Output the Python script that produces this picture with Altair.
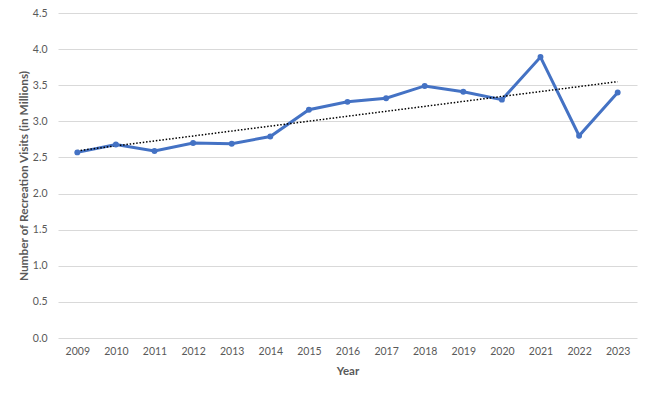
import altair as alt
import pandas as pd

years = list(range(2009, 2024))
visits = [2.57, 2.68, 2.59, 2.70, 2.69, 2.79, 3.16, 3.27, 3.32, 3.49, 3.41, 3.30, 3.89, 2.80, 3.40]

df = pd.DataFrame({"Year": years, "Visits": visits})

FONT = "Lato"
GRAY = "#595959"

x = alt.X("Year:Q",
          scale=alt.Scale(domain=[2008.5, 2023.5], nice=False, zero=False),
          axis=alt.Axis(values=years, format="d", grid=False, domain=False, ticks=False,
                        labelPadding=8, labelFontSize=10.5, labelColor=GRAY, labelFont=FONT,
                        title="Year", titleFont=FONT, titleFontSize=11.5, titleColor=GRAY,
                        titleFontWeight="bold", titlePadding=9, labelFlush=False))
y = alt.Y("Visits:Q",
          scale=alt.Scale(domain=[0, 4.5], nice=False),
          axis=alt.Axis(values=[0, 0.5, 1, 1.5, 2, 2.5, 3, 3.5, 4, 4.5], format=".1f",
                        domain=False, ticks=False, gridColor="#d9d9d9", gridWidth=1,
                        labelPadding=11, labelFontSize=10.5, labelColor=GRAY, labelFont=FONT,
                        title="Number of Recreation Visits (in Millions)", titleFont=FONT,
                        titleFontSize=11.8, titleColor=GRAY, titleFontWeight="bold",
                        titlePadding=3))

base = alt.Chart(df)

line = base.mark_line(color="#4472C4", strokeWidth=3).encode(x=x, y=y)
pts = base.mark_point(color="#4472C4", filled=True, size=35, opacity=1).encode(x=x, y=y)
trend = base.transform_regression("Year", "Visits").mark_line(
    color="black", strokeWidth=1.5, strokeDash=[1.5, 1.8]).encode(x=x, y=y)

chart = alt.layer(line, trend, pts).properties(
    width=579, height=325,
    autosize=alt.AutoSizeParams(type="none"),
    padding={"left": 50, "top": 5, "right": 5, "bottom": 48},
    background="white",
).configure_view(stroke=None)

chart.save("out.html", embed_options={"renderer": "svg", "actions": False})
